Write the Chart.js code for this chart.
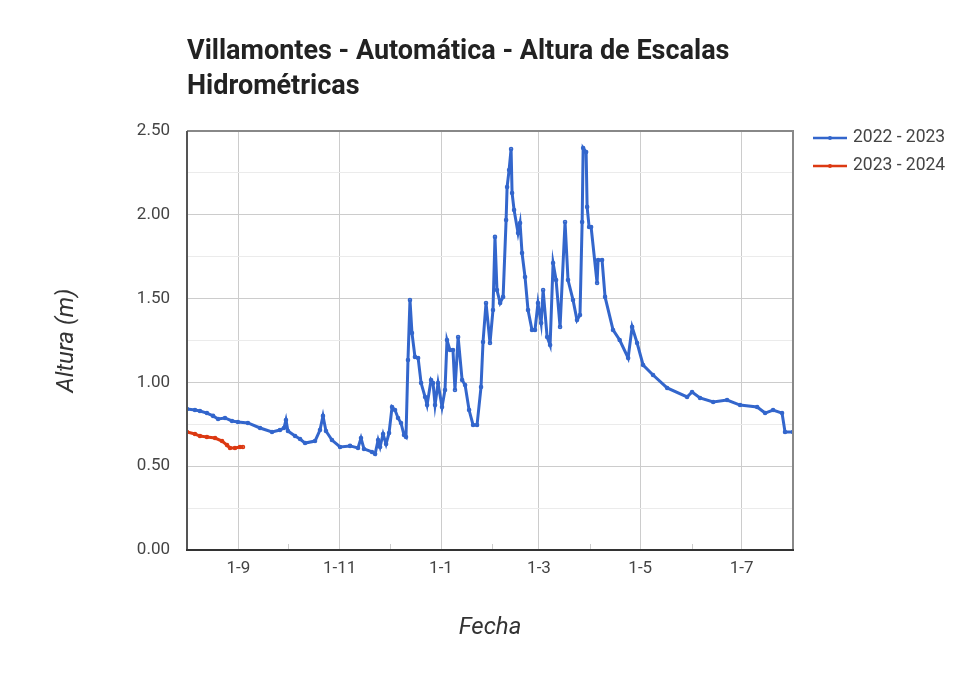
<!DOCTYPE html>
<html>
<head>
<meta charset="utf-8">
<script src="https://cdn.jsdelivr.net/npm/chart.js@4"></script>
<style>
html,body{margin:0;padding:0;background:#fff;}
#wrap{width:980px;height:680px;position:relative;}
</style>
</head>
<body>
<div id="wrap"><canvas id="c" width="980" height="680"></canvas></div>
<script>
const chartTitle = ['Villamontes - Automática - Altura de Escalas', 'Hidrométricas'];
const yTitle = 'Altura (m)';
const xTitle = 'Fecha';
const seriesNames = ['2022 - 2023', '2023 - 2024'];
const seriesColors = ['#3366cc', '#dc3912'];

// days counted from 1 August
const majorTickDays = [31, 92, 153, 212, 273, 334];
const majorTickLabels = ['1-9', '1-11', '1-1', '1-3', '1-5', '1-7'];
const minorTickDays = [61, 122, 184, 243, 304];

const days2223 = [0,4.8,7.8,12,15.7,18.7,22.9,27.1,30.7,36.7,44,51.2,56,58.4,59.6,60.8,65.1,68.1,71.1,77.1,80.1,81.9,83.7,87.3,92.2,98.2,103,104.8,106.6,111.4,113.3,115.1,116.3,118.1,119.9,121.7,123.5,125.3,127.1,128.9,130.7,131.9,133.1,134.3,135.5,137.3,139.2,141,143.4,144.6,147,148.2,149.4,151.2,153.6,155.4,156.6,158.4,160.2,161.4,163.3,165.7,167.5,169.9,172.3,174.7,177.1,178.3,180.1,182.5,184.3,185.5,186.7,188.6,190.4,192.2,192.8,194,195.2,195.8,197,199.4,200.6,201.8,203.6,205.4,207.8,209.6,211.4,213.3,214.5,216.9,218.7,220.5,222.3,224.7,227.7,229.5,232.5,234.9,236.7,238,238.6,240.4,241,242.2,243.4,247,247.6,250,251.8,256.6,260.6,265.7,268.1,271.1,274.7,280.7,289.2,301.2,304.2,309,316.9,325.3,333.1,343.4,348.2,353,358.4,360.2,365];
const alt2223 = [0.841,0.835,0.829,0.817,0.800,0.782,0.788,0.770,0.764,0.758,0.728,0.704,0.716,0.728,0.776,0.710,0.680,0.662,0.638,0.650,0.716,0.800,0.710,0.656,0.615,0.621,0.609,0.668,0.603,0.585,0.573,0.656,0.615,0.692,0.632,0.698,0.853,0.835,0.788,0.758,0.686,0.674,1.134,1.492,1.295,1.152,1.146,0.996,0.913,0.865,1.014,0.996,0.865,0.996,0.853,0.955,1.253,1.193,1.193,0.955,1.271,1.014,0.984,0.835,0.746,0.746,0.973,1.241,1.474,1.235,1.432,1.868,1.551,1.474,1.510,1.969,2.166,2.267,2.393,2.130,2.029,1.891,1.951,1.772,1.629,1.432,1.313,1.313,1.474,1.354,1.551,1.271,1.223,1.712,1.611,1.331,1.957,1.611,1.492,1.372,1.402,1.957,2.399,2.375,2.047,1.927,1.927,1.593,1.730,1.730,1.510,1.313,1.253,1.146,1.331,1.235,1.104,1.044,0.967,0.913,0.943,0.907,0.883,0.895,0.865,0.853,0.817,0.835,0.817,0.704,0.704];

const days2324 = [0,4.8,7.8,12,16.9,21.1,24.1,25.9,28.9,31.9,33.7];
const alt2324 = [0.704,0.692,0.680,0.674,0.668,0.650,0.626,0.609,0.609,0.615,0.615];

const toPts = (xs, ys) => xs.map((x, i) => ({x: x, y: ys[i]}));

const FONT = 'Roboto, "Noto Sans", sans-serif';

const decorPlugin = {
  id: 'decor',
  afterDraw(chart) {
    const ctx = chart.ctx;
    const a = chart.chartArea;
    const xs = chart.scales.x;
    ctx.save();
    // minor month ticks
    ctx.strokeStyle = '#cccccc';
    ctx.lineWidth = 1;
    minorTickDays.forEach(d => {
      const px = Math.round(xs.getPixelForValue(d)) + 0.5;
      ctx.beginPath();
      ctx.moveTo(px, a.bottom);
      ctx.lineTo(px, a.bottom - 6);
      ctx.stroke();
    });
    // frame
    ctx.strokeStyle = '#888888';
    ctx.lineWidth = 2;
    ctx.beginPath();
    ctx.moveTo(a.left, a.top);
    ctx.lineTo(a.right, a.top);
    ctx.lineTo(a.right, a.bottom);
    ctx.stroke();
    ctx.strokeStyle = '#555555';
    ctx.beginPath();
    ctx.moveTo(a.left, a.top);
    ctx.lineTo(a.left, a.bottom);
    ctx.stroke();
    ctx.strokeStyle = '#333333';
    ctx.beginPath();
    ctx.moveTo(a.left - 1, a.bottom);
    ctx.lineTo(a.right + 1, a.bottom);
    ctx.stroke();
    // title
    ctx.fillStyle = '#222222';
    ctx.font = 'bold 27px ' + FONT;
    ctx.textAlign = 'left';
    ctx.textBaseline = 'middle';
    chartTitle.forEach((t, i) => ctx.fillText(t, a.left, 52 + i * 35));
    // legend
    chart.data.datasets.forEach((ds, i) => {
      const y = 138 + i * 28;
      ctx.strokeStyle = ds.borderColor;
      ctx.lineWidth = 2.5;
      ctx.beginPath();
      ctx.moveTo(813, y);
      ctx.lineTo(847, y);
      ctx.stroke();
      ctx.fillStyle = ds.borderColor;
      ctx.beginPath();
      ctx.arc(830, y, 2, 0, Math.PI * 2);
      ctx.fill();
      ctx.fillStyle = '#444444';
      ctx.font = '17.5px ' + FONT;
      ctx.textAlign = 'left';
      ctx.textBaseline = 'middle';
      ctx.fillText(ds.label, 853, y);
    });
    ctx.restore();
  }
};

new Chart(document.getElementById('c'), {
  type: 'line',
  data: {
    datasets: [
      {label: seriesNames[0], data: toPts(days2223, alt2223), borderColor: seriesColors[0], backgroundColor: seriesColors[0], borderWidth: 3, pointRadius: 0.8, pointHoverRadius: 0, tension: 0},
      {label: seriesNames[1], data: toPts(days2324, alt2324), borderColor: seriesColors[1], backgroundColor: seriesColors[1], borderWidth: 3, pointRadius: 0.8, pointHoverRadius: 0, tension: 0}
    ]
  },
  options: {
    responsive: false,
    animation: false,
    events: [],
    layout: {padding: {left: 0, right: 187, top: 131, bottom: 0}},
    plugins: {legend: {display: false}, title: {display: false}, tooltip: {enabled: false}},
    scales: {
      x: {
        type: 'linear', min: 0, max: 365,
        afterBuildTicks(s) { s.ticks = majorTickDays.map(v => ({value: v})); },
        afterFit(s) { s.height = 130; },
        ticks: {
          autoSkip: false, maxRotation: 0, padding: 9, color: '#444444',
          font: {family: FONT, size: 17},
          callback(v) { const i = majorTickDays.indexOf(v); return i >= 0 ? majorTickLabels[i] : ''; }
        },
        grid: {color: '#cccccc', lineWidth: 1, drawTicks: false},
        border: {display: false},
        title: {display: true, text: xTitle, color: '#333333', font: {family: FONT, size: 24, style: 'italic'}, padding: {top: 0, bottom: 38}}
      },
      y: {
        min: 0, max: 2.5,
        afterBuildTicks(s) {
          const t = [];
          for (let i = 0; i <= 10; i++) t.push({value: i * 0.25});
          s.ticks = t;
        },
        afterFit(s) { s.width = 187; },
        ticks: {
          padding: 17, color: '#444444', font: {family: FONT, size: 17},
          callback(v) { return Math.abs(v * 2 - Math.round(v * 2)) < 1e-6 ? v.toFixed(2) : ''; }
        },
        grid: {
          drawTicks: false, lineWidth: 1,
          color(c) { const v = c.tick.value; return Math.abs(v * 2 - Math.round(v * 2)) < 1e-6 ? '#cccccc' : '#ebebeb'; }
        },
        border: {display: false},
        title: {display: true, text: yTitle, color: '#333333', font: {family: FONT, size: 24, style: 'italic'}, padding: {top: 53, bottom: 0}}
      }
    }
  },
  plugins: [decorPlugin]
});
</script>
</body>
</html>
